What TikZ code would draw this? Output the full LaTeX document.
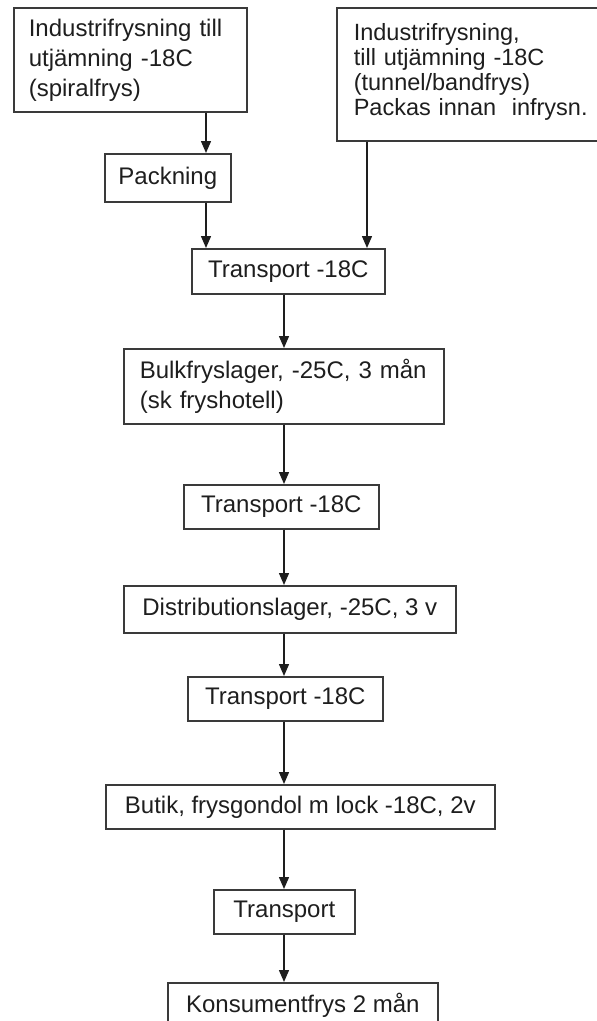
\documentclass[tikz,border=0pt]{standalone}
\usepackage{fontspec}
\setmainfont{Liberation Sans}
\usepackage{tikz}
\usetikzlibrary{arrows.meta}
\usepackage{xcolor}
\definecolor{boxgray}{HTML}{3a3a3a}
\definecolor{inkgray}{HTML}{1e1e1e}

\tikzset{
  stage/.style={draw=boxgray, line width=1.6pt, inner sep=0pt, anchor=north west,
    text=inkgray, font=\fontsize{24}{30}\selectfont},
  flow/.style={-{Triangle[length=12pt,width=10pt]}, line width=1.4pt, draw=inkgray, fill=inkgray},
}

\begin{document}
\begin{tikzpicture}[x=1pt,y=-1pt]
  \useasboundingbox (0,0) rectangle (597,1021);
  % spalter for pilarna
  \coordinate (lcol) at (206,0);
  \coordinate (rcol) at (367,0);
  \coordinate (mcol) at (284,0);

  % infrysning
  \node[stage, text width=203pt, inner xsep=15pt, minimum height=104pt, align=left] (spiral) at (13,7)
    {Industrifrysning till\\utjämning -18C\\(spiralfrys)};
  \node[stage, text width=250pt, inner xsep=17pt, minimum height=133pt, align=left,
    font=\fontsize{23.5}{25}\selectfont] (tunnel) at (336,7)
    {Industrifrysning,\\till utjämning -18C\\(tunnel/bandfrys)\\Packas innan~ infrysn.\rule[-9pt]{0pt}{0pt}};
  \node[stage, minimum width=126pt, minimum height=48pt] (packning) at (104,153) {Packning};

  % kedjan
  \node[stage, minimum width=193pt, minimum height=45pt] (tA) at (191,248) {Transport -18C};
  \node[stage, text width=288pt, inner xsep=16pt, minimum height=75pt, align=left] (bulk) at (123,348)
    {Bulkfryslager, -25C, 3 mån\\(sk fryshotell)};
  \node[stage, minimum width=195pt, minimum height=44pt] (tB) at (183,484) {Transport -18C};
  \node[stage, minimum width=332pt, minimum height=47pt] (distr) at (123,585) {Distributionslager, -25C, 3 v};
  \node[stage, minimum width=195pt, minimum height=44pt] (tC) at (187,676) {Transport -18C};
  \node[stage, minimum width=389pt, minimum height=44pt] (butik) at (105,784) {Butik, frysgondol m lock -18C, 2v};
  \node[stage, minimum width=141pt, minimum height=44pt] (tD) at (213,889) {Transport};
  \node[stage, minimum width=270pt, minimum height=46pt] (konsument) at (167,982) {Konsumentfrys 2 mån};

  \draw[flow] (spiral.south -| lcol) -- (packning.north -| lcol);
  \draw[flow] (packning.south -| lcol) -- (tA.north -| lcol);
  \draw[flow] (tunnel.south -| rcol) -- (tA.north -| rcol);
  \foreach \a/\b in {tA/bulk, bulk/tB, tB/distr, distr/tC, tC/butik, butik/tD, tD/konsument}
    \draw[flow] (\a.south -| mcol) -- (\b.north -| mcol);
\end{tikzpicture}
\end{document}
